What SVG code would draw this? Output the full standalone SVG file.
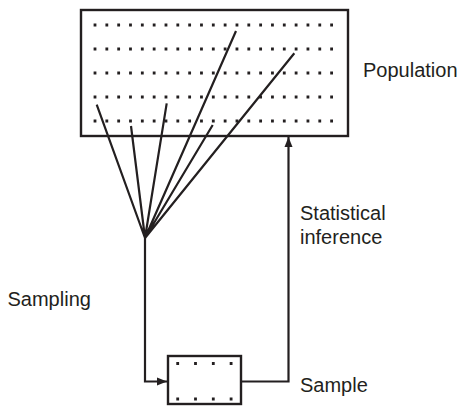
<svg xmlns="http://www.w3.org/2000/svg" width="461" height="406" viewBox="0 0 461 406">
<defs>
<style>
.box{fill:none;stroke:#231f20;stroke-width:2.4}
.ln{fill:none;stroke:#231f20;stroke-width:2.2}
.dot{fill:none;stroke:#231f20;stroke-width:2.8;stroke-dasharray:2.8 9.03}
.lbl{font-family:"Liberation Sans",Arial,sans-serif;font-size:20px;fill:#231f20}
</style>
<marker id="ah" viewBox="0 0 10 10" refX="10" refY="5" markerWidth="10" markerHeight="10" markerUnits="userSpaceOnUse" orient="auto">
<path d="M0,1 L10,5 L0,9 Z" fill="#231f20"/>
</marker>
</defs>
<g id="population">
<rect class="box" x="81" y="10" width="267" height="126"/>
<path class="dot" d="M93.6,25H335 M93.6,49H335 M93.6,73H335 M93.6,97H335 M93.6,121H335"/>
<text class="lbl" x="363" y="77">Population</text>
</g>
<g id="sample">
<rect class="box" x="168" y="356" width="73" height="48"/>
<path class="dot" d="M176.3,363.5H240 M176.3,399H240" style="stroke-dasharray:2.8 15"/>
<text class="lbl" x="300" y="392">Sample</text>
</g>
<g id="connectors">
<path class="ln" d="M145,238 L96.7,104.7 M145,238 L131,126 M145,238 L166.7,103.3 M145,238 L236,31 M145,238 L212.7,125 M145,238 L294.3,53.3"/>
<path class="ln" d="M145,238 V381.5 H167" marker-end="url(#ah)"/>
<path class="ln" d="M241,381.5 H288.5 V137" marker-end="url(#ah)"/>
<text class="lbl" x="7.5" y="306">Sampling</text>
<text class="lbl" x="300" y="220">Statistical</text>
<text class="lbl" x="300" y="243.5">inference</text>
</g>
</svg>
